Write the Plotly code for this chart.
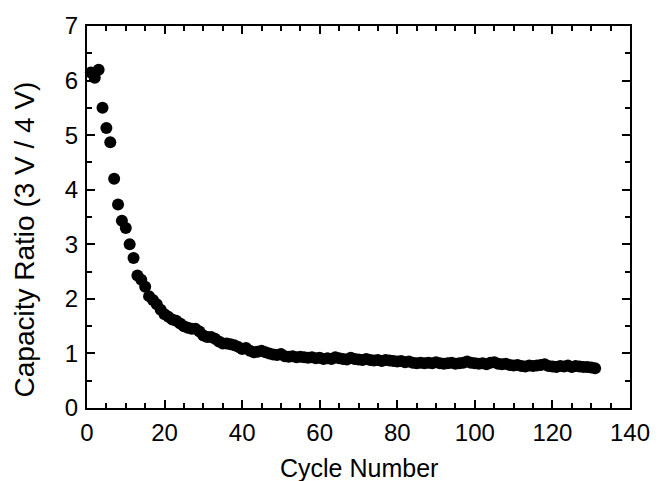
import plotly.graph_objects as go

cycles = list(range(1, 132))
capacity_ratio = [
    6.15, 6.05, 6.2, 5.5, 5.13, 4.87, 4.2, 3.73, 3.43, 3.3,
    3.0, 2.75, 2.43, 2.35, 2.22, 2.05, 1.98, 1.9, 1.8, 1.72,
    1.67, 1.62, 1.6, 1.55, 1.5, 1.47, 1.45, 1.45, 1.4, 1.33,
    1.3, 1.3, 1.27, 1.22, 1.18, 1.18, 1.17, 1.15, 1.12, 1.08,
    1.1, 1.05, 1.02, 1.03, 1.05, 1.02, 1.0, 0.98, 0.97, 0.99,
    0.95, 0.94, 0.95, 0.93, 0.94, 0.93, 0.92, 0.93, 0.91, 0.92,
    0.9, 0.91, 0.9, 0.93, 0.91, 0.9, 0.89, 0.92, 0.9, 0.89,
    0.88, 0.9, 0.88, 0.87, 0.88, 0.86, 0.88, 0.87, 0.86, 0.85,
    0.86, 0.84, 0.85, 0.83, 0.82, 0.83, 0.82, 0.83, 0.82, 0.84,
    0.82, 0.81, 0.82, 0.83, 0.81, 0.82, 0.83, 0.85, 0.83, 0.82,
    0.81, 0.82, 0.8, 0.83, 0.84, 0.81, 0.8, 0.81, 0.79, 0.78,
    0.79, 0.77, 0.76, 0.78, 0.77, 0.78, 0.79, 0.8, 0.77, 0.76,
    0.75, 0.77, 0.76, 0.78, 0.75, 0.77, 0.76, 0.75, 0.75, 0.74,
    0.73,
]

x_ticks = [0, 20, 40, 60, 80, 100, 120, 140]
y_ticks = [0, 1, 2, 3, 4, 5, 6, 7]
x_title = "Cycle Number"
y_title = "Capacity Ratio (3 V / 4 V)"

font_family = "Liberation Sans, Arial, Helvetica, sans-serif"

fig = go.Figure()
fig.add_trace(go.Scatter(
    x=cycles, y=capacity_ratio, mode="markers",
    marker=dict(color="black", size=12, line=dict(width=0)),
    showlegend=False, cliponaxis=False,
))

axis_common = dict(
    showgrid=False, zeroline=False, showline=True, linecolor="black",
    linewidth=2, mirror="ticks", ticks="inside", ticklen=8, tickwidth=2,
    tickcolor="black", tickfont=dict(size=24, color="black", family=font_family),
)

fig.update_xaxes(
    range=[0, 140], tickvals=x_ticks, ticktext=[str(v) for v in x_ticks],
    minor=dict(dtick=5, tick0=0, ticks="inside", ticklen=5, tickwidth=1.5, tickcolor="black"),
    ticklabelstandoff=2,
    **axis_common,
)
fig.update_yaxes(
    range=[0, 7], tickvals=y_ticks, ticktext=[str(v) for v in y_ticks],
    minor=dict(dtick=0.5, tick0=0, ticks="inside", ticklen=5, tickwidth=1.5, tickcolor="black"),
    ticklabelstandoff=2,
    **axis_common,
)

fig.add_annotation(
    text=x_title, xref="paper", yref="paper", x=0.5, y=-0.158,
    xanchor="center", yanchor="middle", showarrow=False,
    font=dict(size=25, color="black", family=font_family),
)
fig.add_annotation(
    text=y_title, xref="paper", yref="paper", x=-0.115, y=0.44,
    xanchor="center", yanchor="middle", showarrow=False, textangle=-90,
    font=dict(size=28, color="black", family=font_family),
)

fig.update_layout(
    width=662, height=481,
    margin=dict(l=87, r=25, t=24, b=73),
    paper_bgcolor="white", plot_bgcolor="white",
)

fig.write_html("out.html")
